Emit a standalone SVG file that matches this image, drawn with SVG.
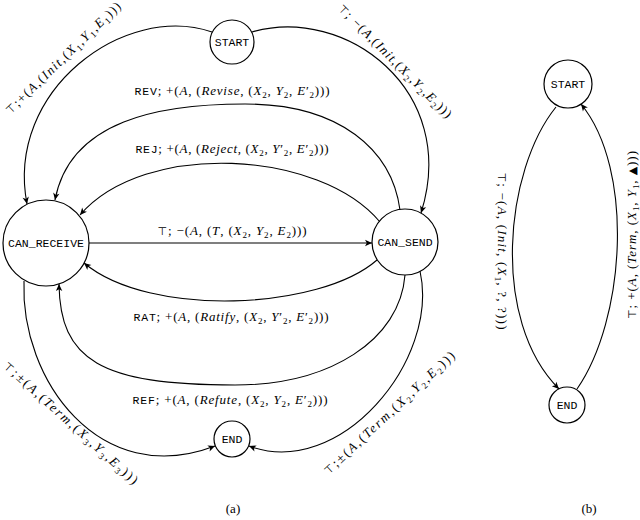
<svg xmlns="http://www.w3.org/2000/svg" width="640" height="520" viewBox="0 0 640 520">
<style>
.node circle{fill:#fff;stroke:#000;stroke-width:1.2}
.nt{font-family:"Liberation Mono","DejaVu Sans Mono",monospace;font-size:11.5px;text-anchor:middle;fill:#000}
.edge{fill:none;stroke:#000;stroke-width:1.1}
.m{font-family:"Liberation Serif","DejaVu Serif",serif;font-size:13px;fill:#000}
.tt{font-family:"Liberation Mono","DejaVu Sans Mono",monospace;font-size:11.5px}
.i{font-style:italic}
.sb{font-size:9px;baseline-shift:-3px}
.sym{font-family:"DejaVu Sans","Noto Sans",sans-serif;font-size:11px}
</style>
<defs>
<marker id="ar" markerUnits="userSpaceOnUse" markerWidth="12" markerHeight="10" refX="0" refY="0" viewBox="-8 -5 10 10" orient="auto">
<path d="M0,0 L-7,-3.2 L-5.2,0 L-7,3.2 Z" fill="#000"/>
</marker>
</defs>

<g id="connectors">
<path class="edge" marker-end="url(#ar)" d="M212,32 C125,2 5,90 27,204"/>
<path class="edge" marker-end="url(#ar)" d="M252,32 C345,5 460,90 421,213"/>
<path class="edge" marker-end="url(#ar)" d="M400,210 C392,150 340,104 245,104 C160,104 70,120 55,200"/>
<path class="edge" marker-end="url(#ar)" d="M380,222 C320,150 145,140 80,215"/>
<path class="edge" marker-end="url(#ar)" d="M89,243 L372,243"/>
<path class="edge" marker-end="url(#ar)" d="M377,260 C320,310 150,318 84,263"/>
<path class="edge" marker-end="url(#ar)" d="M405,275 C400,340 330,385 235,385 C100,385 60,360 59,284"/>
<path class="edge" marker-end="url(#ar)" d="M24,281 C20,380 100,490 215,446"/>
<path class="edge" marker-end="url(#ar)" d="M420,271 C440,360 340,480 249,446"/>
<path class="edge" marker-end="url(#ar)" d="M556,107 C505,170 490,320 559,389"/>
<path class="edge" marker-end="url(#ar)" d="M577,389 C625,320 635,170 581,104"/>
</g>

<g id="labels">
<text class="m" transform="translate(66,61) rotate(-44)" text-anchor="middle" textLength="155"><tspan class="sym">⊤</tspan>;+(<tspan class="i">A</tspan>,(<tspan class="i">Init</tspan>,(<tspan class="i">X</tspan><tspan class="sb">1</tspan>,<tspan class="i">Y</tspan><tspan class="sb">1</tspan>,<tspan class="i">E</tspan><tspan class="sb">1</tspan>)))</text>
<text class="m" transform="translate(392,64) rotate(45)" text-anchor="middle" textLength="155"><tspan class="sym">⊤</tspan>; −(<tspan class="i">A</tspan>,(<tspan class="i">Init</tspan>,(<tspan class="i">X</tspan><tspan class="sb">2</tspan>,<tspan class="i">Y</tspan><tspan class="sb">2</tspan>,<tspan class="i">E</tspan><tspan class="sb">2</tspan>)))</text>
<text class="m" x="232" y="95" text-anchor="middle" textLength="195"><tspan class="tt">REV</tspan>; +(<tspan class="i">A</tspan>, (<tspan class="i">Revise</tspan>, (<tspan class="i">X</tspan><tspan class="sb">2</tspan>, <tspan class="i">Y</tspan><tspan class="sb">2</tspan>, <tspan class="i">E</tspan>′<tspan class="sb">2</tspan>)))</text>
<text class="m" x="232" y="153" text-anchor="middle" textLength="193"><tspan class="tt">REJ</tspan>; +(<tspan class="i">A</tspan>, (<tspan class="i">Reject</tspan>, (<tspan class="i">X</tspan><tspan class="sb">2</tspan>, <tspan class="i">Y</tspan>′<tspan class="sb">2</tspan>, <tspan class="i">E</tspan>′<tspan class="sb">2</tspan>)))</text>
<text class="m" x="232" y="235" text-anchor="middle" textLength="149"><tspan class="sym">⊤</tspan>; −(<tspan class="i">A</tspan>, (<tspan class="i">T</tspan>, (<tspan class="i">X</tspan><tspan class="sb">2</tspan>, <tspan class="i">Y</tspan><tspan class="sb">2</tspan>, <tspan class="i">E</tspan><tspan class="sb">2</tspan>)))</text>
<text class="m" x="231" y="321" text-anchor="middle" textLength="195"><tspan class="tt">RAT</tspan>; +(<tspan class="i">A</tspan>, (<tspan class="i">Ratify</tspan>, (<tspan class="i">X</tspan><tspan class="sb">2</tspan>, <tspan class="i">Y</tspan>′<tspan class="sb">2</tspan>, <tspan class="i">E</tspan>′<tspan class="sb">2</tspan>)))</text>
<text class="m" x="230" y="404" text-anchor="middle" textLength="195"><tspan class="tt">REF</tspan>; +(<tspan class="i">A</tspan>, (<tspan class="i">Refute</tspan>, (<tspan class="i">X</tspan><tspan class="sb">2</tspan>, <tspan class="i">Y</tspan><tspan class="sb">2</tspan>, <tspan class="i">E</tspan>′<tspan class="sb">2</tspan>)))</text>
<text class="m" transform="translate(68,426) rotate(42)" text-anchor="middle" textLength="176"><tspan class="sym">⊤</tspan>;±(<tspan class="i">A</tspan>,(<tspan class="i">Term</tspan>,(<tspan class="i">X</tspan><tspan class="sb">3</tspan>,<tspan class="i">Y</tspan><tspan class="sb">3</tspan>,<tspan class="i">E</tspan><tspan class="sb">3</tspan>)))</text>
<text class="m" transform="translate(392,416) rotate(-43)" text-anchor="middle" textLength="174"><tspan class="sym">⊤</tspan>;±(<tspan class="i">A</tspan>,(<tspan class="i">Term</tspan>,(<tspan class="i">X</tspan><tspan class="sb">2</tspan>,<tspan class="i">Y</tspan><tspan class="sb">2</tspan>,<tspan class="i">E</tspan><tspan class="sb">2</tspan>)))</text>
<text class="m" transform="translate(498,251) rotate(90)" text-anchor="middle" textLength="157"><tspan class="sym">⊤</tspan>; −(<tspan class="i">A</tspan>, (<tspan class="i">Init</tspan>, (<tspan class="i">X</tspan><tspan class="sb">1</tspan>, ?, ?)))</text>
<text class="m" transform="translate(636,235) rotate(-90)" text-anchor="middle" textLength="168"><tspan class="sym">⊤</tspan>; +(<tspan class="i">A</tspan>, (<tspan class="i">Term</tspan>, (<tspan class="i">X</tspan><tspan class="sb">1</tspan>, <tspan class="i">Y</tspan><tspan class="sb">1</tspan>, <tspan class="sym">▲</tspan>)))</text>
<text class="m" x="233" y="513" text-anchor="middle">(a)</text>
<text class="m" x="589" y="513" text-anchor="middle">(b)</text>
</g>

<g id="node-start-a" class="node"><circle cx="232" cy="42" r="22"/><text class="nt" x="232" y="46">START</text></g>
<g id="node-can-receive" class="node"><circle cx="46" cy="243" r="43"/><text class="nt" x="46" y="247">CAN_RECEIVE</text></g>
<g id="node-can-send" class="node"><circle cx="405" cy="242" r="33"/><text class="nt" x="405" y="246">CAN_SEND</text></g>
<g id="node-end-a" class="node"><circle cx="232" cy="439" r="18"/><text class="nt" x="232" y="443">END</text></g>
<g id="node-start-b" class="node"><circle cx="568" cy="84" r="24"/><text class="nt" x="568" y="88">START</text></g>
<g id="node-end-b" class="node"><circle cx="567" cy="405" r="18"/><text class="nt" x="567" y="409">END</text></g>
</svg>
